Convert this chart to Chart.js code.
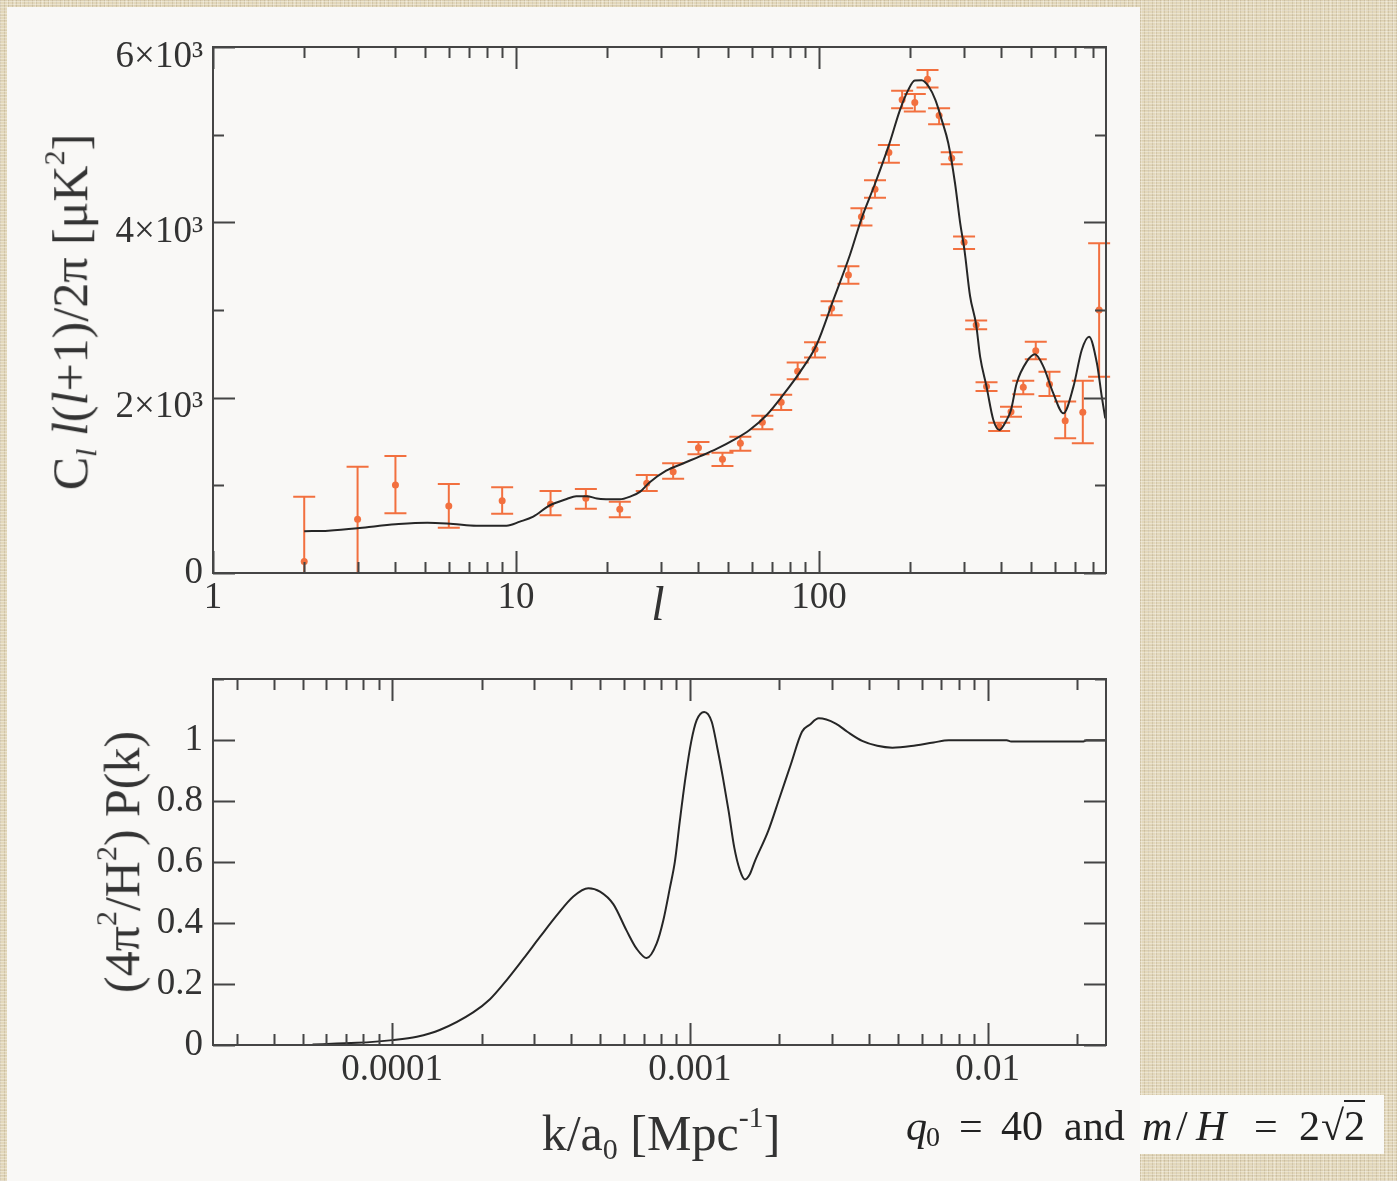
<!DOCTYPE html>
<html>
<head>
<meta charset="utf-8">
<script src="https://cdn.jsdelivr.net/npm/chart.js@4.4.1/dist/chart.umd.min.js"></script>
<style>
    html, body { margin: 0; padding: 0; }
    body {
        width: 1397px; height: 1181px; overflow: hidden; position: relative;
        background-color: #e3d8bb;
        background-image:
            repeating-linear-gradient(0deg, rgba(255,255,255,0.3) 0 1px, transparent 1px 3px),
            repeating-linear-gradient(90deg, rgba(110,90,60,0.15) 0 1px, transparent 1px 4px),
            repeating-linear-gradient(90deg, rgba(255,255,255,0.22) 0 1px, transparent 1px 7px),
            repeating-linear-gradient(0deg, rgba(120,100,70,0.08) 0 1px, transparent 1px 5px);
        font-family: "Liberation Serif", serif;
        color: #333;
    }
    #panel { position: absolute; left: 7px; top: 7px; width: 1133px; height: 1174px; background: #f9f8f6; }
    #notebox { position: absolute; left: 1140px; top: 1095px; width: 244px; height: 59px; background: #fafaf8; }
    canvas { position: absolute; left: 0; }
    #topChart { top: 0; }
    #bottomChart { top: 640px; }
    .title { position: absolute; white-space: nowrap; line-height: 1; transform: translate(-50%, -50%); }
    .rot { transform: translate(-50%, -50%) rotate(-90deg); }
    .title sub { font-size: 60%; vertical-align: -0.3em; }
    .title sup { font-size: 60%; vertical-align: 0.75em; }
    .note { position: absolute; top: 1105px; font-size: 42px; line-height: 1; white-space: nowrap; color: #222; }
    .note.sub { top: 1123px; font-size: 28px; }
    .sq { border-top: 2px solid #222; padding-top: 1px; }
</style>
</head>
<body>
<div id="panel"></div>
<div id="notebox"></div>
<canvas id="topChart" width="1140" height="640"></canvas>
<canvas id="bottomChart" width="1140" height="541"></canvas>

<div class="title rot" style="left:70px; top:312px; font-size:50px;">C<sub><i>l</i></sub> <i>l</i>(<i>l</i>+1)/2π [μK<sup>2</sup>]</div>
<div class="title" style="left:658px; top:604px; font-size:48px;"><i>l</i></div>
<div class="title rot" style="left:119px; top:862px; font-size:50px;">(4π<sup>2</sup>/H<sup>2</sup>) P(k)</div>
<div class="title" style="left:661px; top:1133px; font-size:50px;">k/a<sub>0</sub> [Mpc<sup>-1</sup>]</div>

<span class="note" style="left:906px;"><i>q</i></span>
<span class="note sub" style="left:926px;">0</span>
<span class="note" style="left:959px;">=</span>
<span class="note" style="left:1001px;">40</span>
<span class="note" style="left:1064px;">and</span>
<span class="note" style="left:1142px;"><i>m</i></span>
<span class="note" style="left:1176px;">/</span>
<span class="note" style="left:1196px;"><i>H</i></span>
<span class="note" style="left:1254px;">=</span>
<span class="note" style="left:1299px;">2</span>
<span class="note" style="left:1321px;">√<span class="sq">2</span></span>

<script>
// CMB data points (multipole l, power, error bar top / bottom)
const clEll   = [2, 3, 4, 6, 9, 13, 17, 22, 27, 33, 40, 48, 55, 65, 75, 85, 97, 110, 125, 138, 153, 170, 188, 207, 228, 249, 274, 301, 330, 357, 393, 430, 472, 519, 576, 649, 742, 840];
const clPower = [130, 612, 1004, 764, 825, 784, 852, 727, 1023, 1156, 1430, 1297, 1480, 1720, 1948, 2300, 2552, 3020, 3400, 4065, 4378, 4796, 5397, 5366, 5633, 5218, 4732, 3773, 2830, 2126, 1669, 1840, 2119, 2536, 2153, 1738, 1834, 3001];
const clHigh  = [870, 1213, 1335, 1015, 978, 936, 958, 814, 1118, 1252, 1495, 1373, 1555, 1795, 2034, 2400, 2632, 3100, 3500, 4161, 4481, 4883, 5500, 5465, 5739, 5302, 4800, 3837, 2879, 2176, 1715, 1897, 2194, 2639, 2297, 1955, 2194, 3762];
const clLow   = [0, 0, 681, 517, 677, 658, 734, 636, 936, 1076, 1354, 1221, 1395, 1640, 1860, 2210, 2457, 2940, 3300, 3963, 4279, 4681, 5302, 5263, 5537, 5119, 4663, 3697, 2781, 2077, 1620, 1783, 2039, 2438, 2020, 1537, 1480, 2240];

// model curve
const theoryEll   = [2, 2.4, 3, 3.5, 4.1, 5.1, 6.2, 7.4, 9.3, 10.3, 11.4, 12.9, 14.7, 15.8, 17.1, 18.5, 19.9, 22, 23.8, 25.7, 27.5, 31.3, 35.7, 40.4, 45.9, 52.3, 59, 67.2, 76.1, 86.7, 98.1, 111.5, 126.5, 138, 153, 170, 185, 197, 207, 218, 230, 242, 254, 267, 281, 292, 302, 315, 330, 340, 357, 376, 394, 416, 430, 449, 485, 516, 550, 593, 640, 691, 736, 778, 826, 857, 880];
const theoryPower = [476, 483, 510, 536, 559, 574, 559, 540, 540, 586, 643, 770, 844, 876, 876, 850, 842, 840, 871, 928, 1030, 1167, 1252, 1330, 1415, 1518, 1632, 1803, 2031, 2297, 2601, 3115, 3630, 4040, 4440, 4880, 5283, 5511, 5617, 5620, 5549, 5397, 5169, 4902, 4446, 4000, 3680, 3160, 2830, 2468, 2126, 1746, 1632, 1746, 1860, 2165, 2413, 2495, 2354, 2050, 1822, 2126, 2544, 2696, 2392, 2012, 1765];

// primordial spectrum
const kValues  = [5.4e-5, 7.6e-5, 1.0e-4, 1.21e-4, 1.45e-4, 1.87e-4, 2.13e-4, 2.42e-4, 2.76e-4, 3.14e-4, 3.57e-4, 4.06e-4, 4.56e-4, 4.99e-4, 5.53e-4, 6.13e-4, 6.63e-4, 7.16e-4, 7.73e-4, 8.14e-4, 8.57e-4, 8.91e-4, 9.25e-4, 9.66e-4, 1.01e-3, 1.054e-3, 1.117e-3, 1.184e-3, 1.237e-3, 1.292e-3, 1.35e-3, 1.41e-3, 1.47e-3, 1.53e-3, 1.59e-3, 1.654e-3, 1.832e-3, 2.0e-3, 2.18e-3, 2.38e-3, 2.52e-3, 2.71e-3, 3.09e-3, 3.38e-3, 3.79e-3, 4.26e-3, 4.79e-3, 5.54e-3, 6.59e-3, 7.41e-3, 1.16e-2, 1.2e-2, 2.1e-2, 2.15e-2, 2.5e-2];
const pkValues = [0.002, 0.007, 0.016, 0.027, 0.05, 0.107, 0.15, 0.212, 0.283, 0.355, 0.425, 0.487, 0.514, 0.503, 0.462, 0.375, 0.315, 0.285, 0.332, 0.408, 0.516, 0.603, 0.734, 0.875, 0.994, 1.065, 1.092, 1.06, 0.973, 0.875, 0.766, 0.647, 0.575, 0.543, 0.56, 0.603, 0.701, 0.81, 0.918, 1.027, 1.049, 1.071, 1.054, 1.027, 0.997, 0.981, 0.975, 0.98, 0.992, 0.999, 0.999, 0.995, 0.995, 0.999, 0.999];

// tick labels
const clDecades  = [1, 10, 100];
const clXLabels  = ['1', '10', '100'];
const clYLabels  = ['0', '2×10³', '4×10³', '6×10³'];
const kDecades   = [1e-5, 1e-4, 1e-3, 1e-2];
const kXLabels   = ['', '0.0001', '0.001', '0.01'];
const pkYLabels  = ['0', '0.2', '0.4', '0.6', '0.8', '1'];

const ORANGE = '#f2703f';
const AXIS = '#454545';
const tickFont = { family: 'Liberation Serif', size: 37 };

// log ticks: decades (major) and 2..9 in between
function logTicks(decades, lo, hi) {
    const out = [];
    decades.forEach((d, i) => {
        for (let m = 1; m <= 9; m++) {
            const v = d * m;
            if (v >= lo && v <= hi) out.push({ value: v, major: m === 1, idx: i });
        }
    });
    return out;
}

// box around the plot with inward ticks on all four sides
const framePlugin = {
    id: 'frame',
    afterDraw(chart) {
        const { ctx, chartArea: a, scales: { x, y } } = chart;
        ctx.save();
        ctx.strokeStyle = AXIS;
        ctx.lineWidth = 2;
        ctx.beginPath();
        x.ticks.forEach(t => {
            const px = Math.round(x.getPixelForValue(t.value)) + 0.5;
            const len = t.major ? 22 : 11;
            ctx.moveTo(px, a.bottom); ctx.lineTo(px, a.bottom - len);
            ctx.moveTo(px, a.top); ctx.lineTo(px, a.top + len);
        });
        y.ticks.forEach(t => {
            const py = Math.round(y.getPixelForValue(t.value)) + 0.5;
            const len = (t.label && t.label.length) ? 22 : 11;
            ctx.moveTo(a.left, py); ctx.lineTo(a.left + len, py);
            ctx.moveTo(a.right, py); ctx.lineTo(a.right - len, py);
        });
        ctx.stroke();
        ctx.strokeRect(a.left, a.top, a.right - a.left, a.bottom - a.top);
        ctx.restore();
    }
};

const errorBarPlugin = {
    id: 'errorBars',
    beforeDatasetsDraw(chart) {
        const { ctx, scales: { x, y } } = chart;
        ctx.save();
        ctx.strokeStyle = ORANGE;
        ctx.lineWidth = 2;
        ctx.beginPath();
        clEll.forEach((l, i) => {
            const px = x.getPixelForValue(l);
            const top = y.getPixelForValue(clHigh[i]);
            const bot = y.getPixelForValue(clLow[i]);
            ctx.moveTo(px, top); ctx.lineTo(px, bot);
            ctx.moveTo(px - 11, top); ctx.lineTo(px + 11, top);
            if (clLow[i] > 0) { ctx.moveTo(px - 11, bot); ctx.lineTo(px + 11, bot); }
        });
        ctx.stroke();
        ctx.restore();
    }
};

const topCanvas = document.getElementById('topChart');
new Chart(topCanvas, {
    type: 'scatter',
    data: {
        datasets: [{
            label: 'model',
            data: theoryEll.map((l, i) => ({ x: l, y: theoryPower[i] })),
            showLine: true,
            borderColor: '#262626',
            borderWidth: 2,
            pointRadius: 0,
            cubicInterpolationMode: 'monotone'
        }, {
            label: 'data',
            data: clEll.map((l, i) => ({ x: l, y: clPower[i] })),
            pointRadius: 3.5,
            backgroundColor: ORANGE,
            borderWidth: 0
        }]
    },
    options: {
        responsive: false,
        animation: false,
        devicePixelRatio: 1,
        layout: { padding: { left: 0, top: 47, right: 34, bottom: 0 } },
        plugins: { legend: { display: false }, tooltip: { enabled: false } },
        scales: {
            x: {
                type: 'logarithmic',
                min: 1,
                max: 885,
                afterBuildTicks: (s) => { s.ticks = logTicks(clDecades, 1, 885); },
                afterFit: (s) => { s.height = 67; },
                grid: { display: false, drawTicks: false },
                border: { display: false },
                ticks: {
                    autoSkip: false, maxRotation: 0, minRotation: 0, padding: 3,
                    font: tickFont, color: '#333',
                    callback: (v, i, ticks) => ticks[i].major ? clXLabels[ticks[i].idx] : ''
                }
            },
            y: {
                min: 0,
                max: 6000,
                afterFit: (s) => { s.width = 213; },
                grid: { display: false, drawTicks: false },
                border: { display: false },
                ticks: {
                    stepSize: 1000, padding: 10,
                    // the ×10³ labels sit a little below their tick, as in the print
                    font: { family: 'Liberation Serif', size: 37, lineHeight: '20px' },
                    color: '#333',
                    callback: (v) => {
                        if (v === 0) return clYLabels[0];
                        return v % 2000 === 0 ? ['', clYLabels[v / 2000]] : '';
                    }
                }
            }
        }
    },
    plugins: [errorBarPlugin, framePlugin]
});

const bottomCanvas = document.getElementById('bottomChart');
new Chart(bottomCanvas, {
    type: 'scatter',
    data: {
        datasets: [{
            label: 'P(k)',
            data: kValues.map((k, i) => ({ x: k, y: pkValues[i] })),
            showLine: true,
            borderColor: '#262626',
            borderWidth: 2,
            pointRadius: 0,
            cubicInterpolationMode: 'monotone'
        }]
    },
    options: {
        responsive: false,
        animation: false,
        devicePixelRatio: 1,
        layout: { padding: { left: 0, top: 39, right: 34, bottom: 0 } },
        plugins: { legend: { display: false }, tooltip: { enabled: false } },
        scales: {
            x: {
                type: 'logarithmic',
                min: 2.5e-5,
                max: 0.025,
                afterBuildTicks: (s) => { s.ticks = logTicks(kDecades, 2.5e-5, 0.025); },
                afterFit: (s) => { s.height = 136; },
                grid: { display: false, drawTicks: false },
                border: { display: false },
                ticks: {
                    autoSkip: false, maxRotation: 0, minRotation: 0, padding: 3,
                    font: tickFont, color: '#333',
                    callback: (v, i, ticks) => ticks[i].major ? kXLabels[ticks[i].idx] : ''
                }
            },
            y: {
                min: 0,
                max: 1.2,
                afterFit: (s) => { s.width = 213; },
                grid: { display: false, drawTicks: false },
                border: { display: false },
                ticks: {
                    stepSize: 0.1, padding: 10,
                    font: tickFont, color: '#333',
                    callback: (v) => {
                        const n = Math.round(v * 10);
                        return (n % 2 === 0 && n <= 10) ? pkYLabels[n / 2] : '';
                    }
                }
            }
        }
    },
    plugins: [framePlugin]
});
</script>
</body>
</html>
